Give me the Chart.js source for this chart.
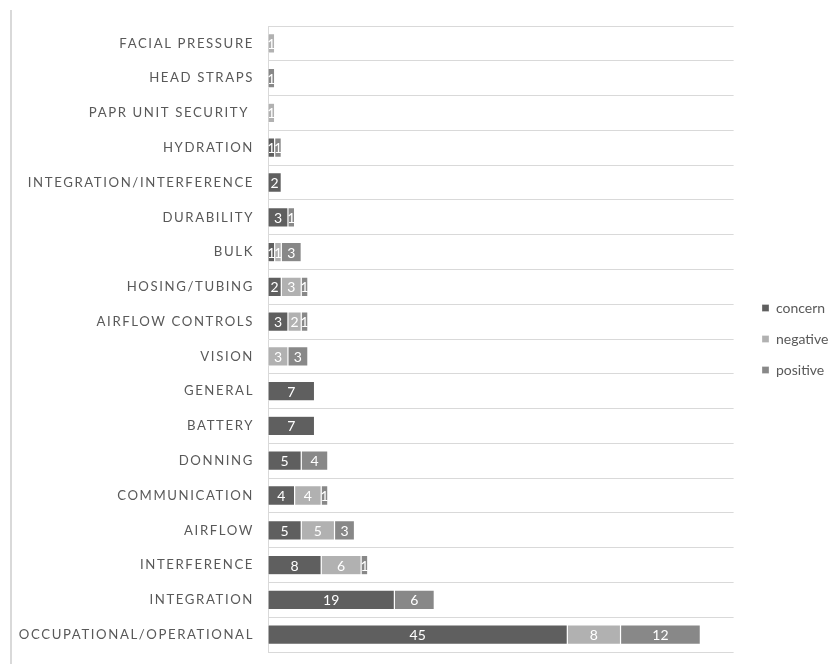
<!DOCTYPE html>
<html>
<head>
<meta charset="utf-8">
<script src="https://cdn.jsdelivr.net/npm/chart.js@4"></script>
<style>
  html, body { margin: 0; padding: 0; background: #fff; }
  #wrap { position: relative; width: 834px; height: 666px; }
  #frame { position: absolute; left: 10px; top: 10px; width: 2px; height: 654px; background: #d9d9d9; }
  canvas { position: absolute; left: 0; top: 0; }
</style>
</head>
<body>
<div id="wrap">
  <div id="frame"></div>
  <canvas id="chart" width="834" height="666"></canvas>
</div>
<script>
// categories top to bottom
const categories = [
  'FACIAL PRESSURE', 'HEAD STRAPS', 'PAPR UNIT SECURITY ', 'HYDRATION',
  'INTEGRATION/INTERFERENCE', 'DURABILITY', 'BULK', 'HOSING/TUBING',
  'AIRFLOW CONTROLS', 'VISION', 'GENERAL', 'BATTERY', 'DONNING',
  'COMMUNICATION', 'AIRFLOW', 'INTERFERENCE', 'INTEGRATION',
  'OCCUPATIONAL/OPERATIONAL'
];
const concern  = [null, null, null, 1, 2, 3, 1, 2, 3, null, 7, 7, 5, 4, 5, 8, 19, 45];
const negative = [1, null, 1, null, null, null, 1, 3, 2, 3, null, null, null, 4, 5, 6, null, 8];
const positive = [null, 1, null, 1, null, 1, 3, 1, 1, 3, null, null, 4, 1, 3, 1, 6, 12];

const textColor = '#595959';
const gridColor = '#d9d9d9';
const fontFamily = 'Lato, "Open Sans", sans-serif';

// white value labels in the middle of each segment
const valueLabels = {
  id: 'valueLabels',
  afterDatasetsDraw(chart) {
    const ctx = chart.ctx;
    ctx.save();
    ctx.font = '14px ' + fontFamily;
    ctx.fillStyle = '#ffffff';
    ctx.textAlign = 'center';
    ctx.textBaseline = 'middle';
    chart.data.datasets.forEach((ds, i) => {
      chart.getDatasetMeta(i).data.forEach((bar, j) => {
        const v = ds.data[j];
        if (v == null) return;
        ctx.fillText(String(v), (bar.x + bar.base) / 2, bar.y + 1);
      });
    });
    ctx.restore();
  }
};

// spaced-out category labels, legend pushed a bit to the right
const tweaks = {
  id: 'tweaks',
  afterUpdate(chart) {
    const scale = chart.scales.y;
    if (!scale || scale._spaced) return;
    const orig = scale.drawLabels.bind(scale);
    scale.drawLabels = function (area) {
      const ctx = chart.ctx;
      ctx.save();
      ctx.letterSpacing = '1.6px';
      orig(area);
      ctx.restore();
    };
    scale._spaced = true;
  },
  afterLayout(chart) {
    const lg = chart.legend;
    const dx = 745 - lg.left;
    lg.left += dx;
    lg.right += dx;
  }
};

new Chart(document.getElementById('chart'), {
  type: 'bar',
  data: {
    labels: categories,
    datasets: [
      { label: 'concern', data: concern, backgroundColor: '#5f5f5f' },
      { label: 'negative', data: negative, backgroundColor: '#b1b1b1' },
      { label: 'positive', data: positive, backgroundColor: '#888888' }
    ]
  },
  options: {
    indexAxis: 'y',
    responsive: false,
    animation: false,
    layout: { padding: { left: 14, right: 7, top: 26, bottom: 14 } },
    datasets: {
      bar: {
        barPercentage: 0.56,
        categoryPercentage: 1,
        borderWidth: 0.6,
        borderColor: 'rgba(255,255,255,0.5)',
        borderSkipped: false
      }
    },
    scales: {
      x: {
        stacked: true,
        min: 0,
        max: 70,
        display: false
      },
      y: {
        stacked: true,
        afterFit(scale) {
          scale.width = 254;
          scale.paddingTop = 0;
          scale.paddingBottom = 0;
        },
        grid: { color: gridColor, lineWidth: 1, drawTicks: false, offset: true },
        border: { color: gridColor, width: 1 },
        ticks: {
          color: textColor,
          padding: 14,
          autoSkip: false,
          font: { family: fontFamily, size: 13.2 }
        }
      }
    },
    plugins: {
      legend: {
        position: 'right',
        labels: {
          color: textColor,
          boxWidth: 7,
          boxHeight: 7,
          padding: 17,
          font: { family: fontFamily, size: 14 }
        }
      },
      tooltip: { enabled: false }
    }
  },
  plugins: [valueLabels, tweaks]
});
</script>
</body>
</html>
